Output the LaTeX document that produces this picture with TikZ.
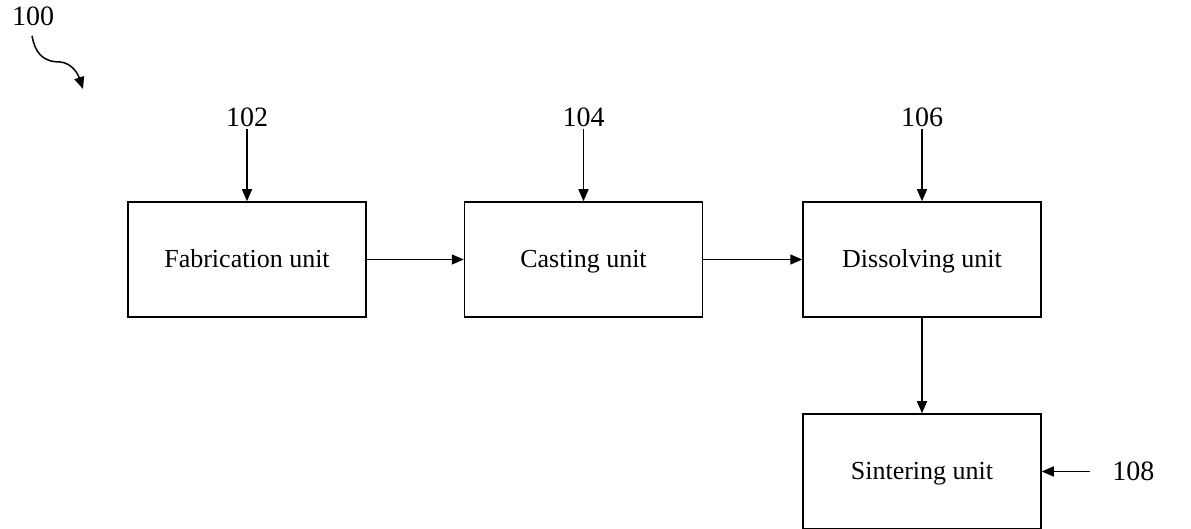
\documentclass[tikz,border=0pt]{standalone}
\usepackage{fontspec}
\setmainfont{Liberation Serif}
\usetikzlibrary{arrows.meta}
\begin{document}
\begin{tikzpicture}[x=0.5pt,y=-0.5pt,
  unitbox/.style={draw,line width=0.75pt,minimum width=119pt,minimum height=57.5pt,inner sep=0pt,text height=9pt,text depth=0.5pt,font=\fontsize{13}{15}\selectfont},
  numlabel/.style={inner sep=1pt,font=\fontsize{14}{16}\selectfont},
  arr/.style={line width=0.75pt,-{Triangle[length=6pt,width=5pt]}}]
\useasboundingbox (0,0) rectangle (1191,529);
\node[unitbox] (b1) at (247,259.5) {Fabrication unit};
\node[unitbox] (b2) at (583.5,259.5) {Casting unit};
\node[unitbox] (b3) at (922,259.5) {Dissolving unit};
\node[unitbox] (b4) at (922,471.5) {Sintering unit};
\node[numlabel] (l100) at (33,16) {100};
\node[numlabel] (l102) at (247,117) {102};
\node[numlabel] (l104) at (583.5,117) {104};
\node[numlabel] (l106) at (922,117) {106};
\node[numlabel,anchor=west] (l108) at (1110,471.5) {108};
\coordinate (c100) at (83,89);
\draw[arr] (l100.south) ++(-1,8) .. controls (35,52) and (42,62) .. (60,62) .. controls (72,63) and (78,74) .. (c100);
\draw[arr] (l102.south) -- (b1.north);
\draw[arr] (l104.south) -- (b2.north);
\draw[arr] (l106.south) -- (b3.north);
\draw[arr] (b1.east) -- (b2.west);
\draw[arr] (b2.east) -- (b3.west);
\draw[arr] (b3.south) -- (b4.north);
\draw[arr,shorten <=10pt] (l108.west) -- (b4.east);
\end{tikzpicture}
\end{document}
